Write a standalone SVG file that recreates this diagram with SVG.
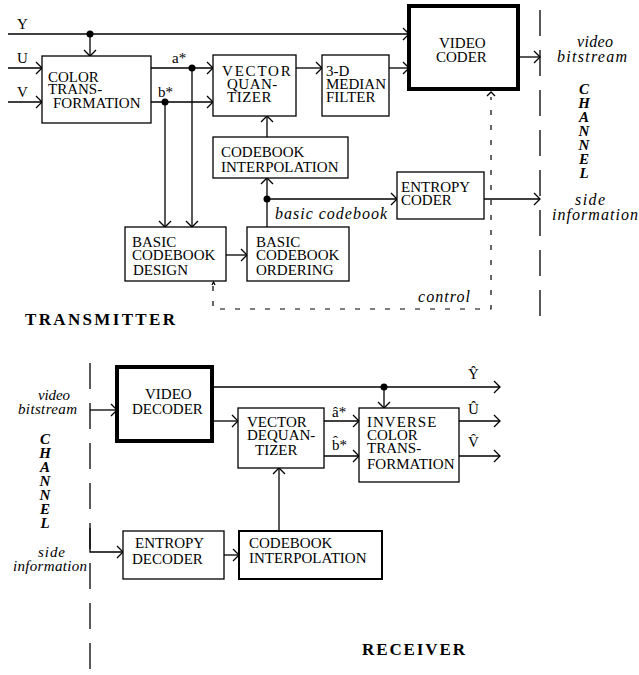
<svg xmlns="http://www.w3.org/2000/svg" width="639" height="675" viewBox="0 0 639 675">
<style>
.bx{fill:#fff;stroke:#000;stroke-width:1.3}
.thick{fill:#fff;stroke:#000;stroke-width:4}
.med{fill:#fff;stroke:#000;stroke-width:2}
.t{font-family:"Liberation Serif","Times New Roman",serif;font-size:15px;fill:#000}
.i{font-family:"Liberation Serif","Times New Roman",serif;font-size:16px;font-style:italic;fill:#000}
.ch{font-family:"Liberation Serif","Times New Roman",serif;font-size:15px;font-style:italic;font-weight:bold;fill:#000;writing-mode:vertical-rl;text-orientation:upright;letter-spacing:-2px}
.b{font-family:"Liberation Serif","Times New Roman",serif;font-size:17px;font-weight:bold;fill:#000}
.ln{fill:none;stroke:#000;stroke-width:1.3}
.ar{marker-end:url(#a)}
.dash{fill:none;stroke:#000;stroke-width:1.3;stroke-dasharray:26 14}
.ctl{fill:none;stroke:#000;stroke-width:1.2;stroke-dasharray:5 10}
</style>
<defs>
<marker id="a" markerUnits="userSpaceOnUse" markerWidth="14" markerHeight="14" refX="7" refY="7" orient="auto" overflow="visible">
<path d="M1,1 L7,7 L1,13" fill="none" stroke="#000" stroke-width="1.3"/>
</marker>
</defs>

<g id="channel-lines">
<path class="dash" d="M540,10 V325"/>
<path class="dash" d="M90,363 V675"/>
</g>

<g id="connectors">
<path class="ln ar" d="M8,34 H409"/>
<path class="ln ar" d="M90,34 V56"/>
<path class="ln ar" d="M8,68 H42"/>
<path class="ln ar" d="M8,102 H42"/>
<path class="ln ar" d="M151,68 H213"/>
<path class="ln ar" d="M151,102 H213"/>
<path class="ln ar" d="M165,102 V227"/>
<path class="ln ar" d="M192,68 V227"/>
<path class="ln ar" d="M296,68 H322"/>
<path class="ln ar" d="M389,68 H409"/>
<path class="ln ar" d="M518,57 H540"/>
<path class="ln ar" d="M267,137 V116"/>
<path class="ln ar" d="M267,227 V178"/>
<path class="ln ar" d="M267,199 H397"/>
<path class="ln ar" d="M226,255 H247"/>
<path class="ln ar" d="M484,199 H540"/>
<path class="ctl" d="M213,286 V309 H491 V97"/>
<path class="ln" d="M487,96 L491,92 L495,96" stroke-width="1"/>
<path class="ln" d="M212,285 L213.5,282 L215,285" stroke-width="0.8"/>
<circle cx="90" cy="34" r="3.5"/>
<circle cx="192" cy="68" r="3.5"/>
<circle cx="165" cy="102" r="3.5"/>
<circle cx="267" cy="199" r="3.5"/>

<path class="ln ar" d="M90,410 H117"/>
<path class="ln ar" d="M212,387 H500"/>
<path class="ln ar" d="M384,387 V408"/>
<path class="ln ar" d="M212,421 H238"/>
<path class="ln ar" d="M324,421 H359"/>
<path class="ln ar" d="M324,456 H359"/>
<path class="ln ar" d="M459,421 H500"/>
<path class="ln ar" d="M459,456 H500"/>
<path class="ln ar" d="M279,531 V468"/>
<path class="ln ar" d="M90,528 V552 H123"/>
<path class="ln ar" d="M224,555 H239"/>
<circle cx="384" cy="387" r="3.5"/>
</g>

<g id="signal-labels">
<text class="t" x="17" y="29">Y</text>
<text class="t" x="17" y="63">U</text>
<text class="t" x="17" y="97">V</text>
<text class="t" x="172" y="63">a*</text>
<text class="t" x="158" y="97">b*</text>
<text class="i" x="275" y="219" textLength="112" lengthAdjust="spacing">basic codebook</text>
<text class="i" x="418" y="302" textLength="52" lengthAdjust="spacing">control</text>
<text class="i"><tspan x="577" y="47" textLength="36" lengthAdjust="spacing">video</tspan><tspan x="557" y="62" textLength="70" lengthAdjust="spacing">bitstream</tspan></text>
<text class="i"><tspan x="575" y="205" textLength="30" lengthAdjust="spacing">side</tspan><tspan x="552" y="220" textLength="86" lengthAdjust="spacing">information</tspan></text>
<text class="ch" x="584" y="81">CHANNEL</text>
<text class="b" x="25" y="325" textLength="150" lengthAdjust="spacing">TRANSMITTER</text>

<text class="i" style="font-size:15px"><tspan x="38" y="400" textLength="32" lengthAdjust="spacing">video</tspan><tspan x="18" y="414" textLength="59" lengthAdjust="spacing">bitstream</tspan></text>
<text class="ch" x="45" y="431">CHANNEL</text>
<text class="i" style="font-size:15px"><tspan x="38" y="557" textLength="27" lengthAdjust="spacing">side</tspan><tspan x="13" y="571" textLength="74" lengthAdjust="spacing">information</tspan></text>
<text class="t" x="468" y="379">Ŷ</text>
<text class="t" x="468" y="414">Û</text>
<text class="t" x="468" y="447">V̂</text>
<text class="t" x="332" y="417">â*</text>
<text class="t" x="332" y="450">b̂*</text>
<text class="b" x="362" y="655" textLength="103" lengthAdjust="spacing">RECEIVER</text>
</g>

<g id="color-transformation">
<rect class="bx" x="42" y="56" width="109" height="67"/>
<text class="t"><tspan x="48" y="82">COLOR</tspan><tspan x="48" y="94">TRANS-</tspan><tspan x="53" y="108">FORMATION</tspan></text>
</g>
<g id="vector-quantizer">
<rect class="bx" x="213" y="55" width="83" height="61"/>
<text class="t"><tspan x="222" y="76" letter-spacing="1.8">VECTOR</tspan><tspan x="227" y="89" letter-spacing="0.5">QUAN-</tspan><tspan x="227" y="102" letter-spacing="0.5">TIZER</tspan></text>
</g>
<g id="median-filter">
<rect class="bx" x="322" y="55" width="67" height="61"/>
<text class="t"><tspan x="326" y="76">3-D</tspan><tspan x="326" y="89">MEDIAN</tspan><tspan x="326" y="102">FILTER</tspan></text>
</g>
<g id="video-coder">
<rect class="thick" x="409" y="6" width="109" height="83"/>
<text class="t"><tspan x="439" y="48">VIDEO</tspan><tspan x="436" y="62">CODER</tspan></text>
</g>
<g id="codebook-interpolation-tx">
<rect class="bx" x="213" y="137" width="135" height="41"/>
<text class="t"><tspan x="221" y="157">CODEBOOK</tspan><tspan x="221" y="172">INTERPOLATION</tspan></text>
</g>
<g id="basic-codebook-design">
<rect class="bx" x="125" y="227" width="101" height="54"/>
<text class="t"><tspan x="132" y="247">BASIC</tspan><tspan x="132" y="260">CODEBOOK</tspan><tspan x="133" y="275">DESIGN</tspan></text>
</g>
<g id="basic-codebook-ordering">
<rect class="bx" x="247" y="227" width="102" height="54"/>
<text class="t"><tspan x="256" y="247">BASIC</tspan><tspan x="256" y="260">CODEBOOK</tspan><tspan x="256" y="275">ORDERING</tspan></text>
</g>
<g id="entropy-coder">
<rect class="bx" x="397" y="172" width="87" height="47"/>
<text class="t"><tspan x="401" y="192">ENTROPY</tspan><tspan x="401" y="205">CODER</tspan></text>
</g>

<g id="video-decoder">
<rect class="thick" x="117" y="367" width="95" height="74"/>
<text class="t"><tspan x="145" y="399">VIDEO</tspan><tspan x="132" y="414">DECODER</tspan></text>
</g>
<g id="vector-dequantizer">
<rect class="bx" x="238" y="408" width="86" height="60"/>
<text class="t"><tspan x="247" y="427">VECTOR</tspan><tspan x="247" y="440">DEQUAN-</tspan><tspan x="255" y="455">TIZER</tspan></text>
</g>
<g id="inverse-color-transformation">
<rect class="bx" x="359" y="408" width="100" height="74"/>
<text class="t"><tspan x="367" y="427" letter-spacing="1">INVERSE</tspan><tspan x="367" y="440">COLOR</tspan><tspan x="367" y="453">TRANS-</tspan><tspan x="367" y="469">FORMATION</tspan></text>
</g>
<g id="entropy-decoder">
<rect class="bx" x="123" y="531" width="101" height="48"/>
<text class="t"><tspan x="135" y="548">ENTROPY</tspan><tspan x="132" y="564">DECODER</tspan></text>
</g>
<g id="codebook-interpolation-rx">
<rect class="med" x="239" y="531" width="143" height="48"/>
<text class="t"><tspan x="249" y="548">CODEBOOK</tspan><tspan x="249" y="563">INTERPOLATION</tspan></text>
</g>
</svg>
